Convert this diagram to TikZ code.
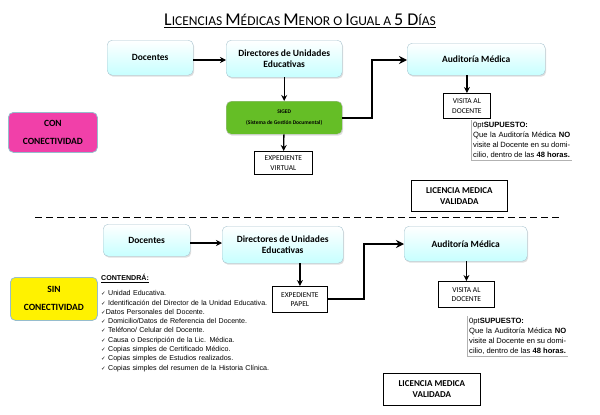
\documentclass[tikz,border=0pt]{standalone}
\usepackage{fontspec}
\setmainfont{Carlito}
\newfontfamily\listfont{Liberation Sans}
\newfontfamily\symfont{DejaVu Sans}
\usetikzlibrary{
  arrows.meta, % for the arrow tips
  shadows, % for the shadow behind the rounded boxes
}
\tikzset{
  stage/.style={ % style for the rounded blue boxes
    rectangle,rounded corners=5pt,draw=cyan!35!gray!60,
    top color=white,bottom color=cyan!22,
    drop shadow={opacity=0.25,shadow xshift=1pt,shadow yshift=-1.5pt},
    font=\bfseries\fontsize{9.5}{11}\selectfont,align=center,
    anchor=north west,inner sep=0pt,
  },
  doc/.style={ % style for the plain framed boxes
    rectangle,draw,thick,fill=white,font=\fontsize{7.5}{9.5}\selectfont,
    align=center,anchor=north west,inner sep=0pt,
  },
  tag/.style={ % style for the coloured side tags
    rectangle,rounded corners=5pt,draw=cyan!40!gray!70,thick,
    font=\bfseries\fontsize{9.5}{18}\selectfont,align=center,
    anchor=north west,inner sep=0pt,
  },
  note/.style={ % style for the SUPUESTO texts
    anchor=north west,inner sep=2pt,text width=97pt,align=justify,
    font=\listfont\fontsize{7.6}{10}\selectfont\hyphenpenalty=10000,
  },
  conn/.style={-{Stealth[length=6pt,width=6pt]},line width=1.3pt},
  bigconn/.style={-{Stealth[length=8pt,width=8pt]},line width=2pt},
}
\newcommand{\chk}{{\symfont\fontsize{5.5}{6}\selectfont ✓}}
\begin{document}
\begin{tikzpicture}[x=1pt,y=-1pt]
	\useasboundingbox (0,0) rectangle (600,415);
	
	% title
	\node (title) at (300,21) {\fontsize{18}{19}\selectfont\underline{L\fontsize{13.5}{14}\selectfont ICENCIAS
		\fontsize{18}{19}\selectfont M\fontsize{13.5}{14}\selectfont ÉDICAS
		\fontsize{18}{19}\selectfont M\fontsize{13.5}{14}\selectfont ENOR O
		\fontsize{18}{19}\selectfont I\fontsize{13.5}{14}\selectfont GUAL A
		\fontsize{18}{19}\selectfont 5 D\fontsize{13.5}{14}\selectfont ÍAS}};
	
	% con conectividad
	\node[tag,fill=magenta!75!white,minimum width=89pt,minimum height=40pt] (con) at (8,112) {CON\\CONECTIVIDAD};
	\node[stage,minimum width=86pt,minimum height=35pt] (doc1) at (107,40) {Docentes};
	\node[stage,minimum width=116pt,minimum height=37pt] (dir1) at (226,40) {Directores de Unidades\\Educativas};
	\node[stage,minimum width=138pt,minimum height=32pt] (aud1) at (407,43) {Auditoría Médica};
	\node[stage,top color=green!45!lime!70!black!85,bottom color=green!45!lime!70!black!85,draw=gray!50,minimum width=116pt,minimum height=33pt,
		font=\bfseries\fontsize{5.5}{11}\selectfont] (siged) at (226,101) {SIGED\\(Sistema de Gestión Documental)};
	\node[doc,minimum width=58pt,minimum height=23pt] (exv) at (254,151) {EXPEDIENTE\\VIRTUAL};
	\node[doc,minimum width=47pt,minimum height=25pt] (vis1) at (443,93) {VISITA AL\\DOCENTE};
	\node[note] (sup1) at (471,120) {\textbf{SUPUESTO:}\\ Que la Auditoría Médica \textbf{NO} visite al Docente en su domicilio, dentro de las \textbf{48 horas.}};
	\node[doc,font=\bfseries\fontsize{9}{11}\selectfont,minimum width=96pt,minimum height=31pt] (lic1) at (411,180) {LICENCIA MEDICA\\VALIDADA};
	
	\draw[gray!60,thick] (sup1.north west) -- (sup1.south west) -- (sup1.south east);
	\draw[conn] (doc1.east |- 0,60) -- (dir1.west |- 0,60);
	\draw[conn] (dir1) -- (siged);
	\draw[conn] (siged) -- (exv);
	\draw[bigconn] (siged.east) -| (372,60) -- (aud1.west |- 0,60);
	\draw[conn] (aud1.south -| vis1) -- (vis1);
	
	% separator
	\draw[thick,dash pattern=on 7pt off 4pt] (35,217) -- (560,217);
	
	% sin conectividad
	\node[tag,fill=yellow,minimum width=87pt,minimum height=43pt] (sin) at (10,277) {SIN\\CONECTIVIDAD};
	\node[stage,minimum width=87pt,minimum height=32pt] (doc2) at (103,224) {Docentes};
	\node[stage,minimum width=121pt,minimum height=37pt] (dir2) at (222,226) {Directores de Unidades\\Educativas};
	\node[stage,minimum width=123pt,minimum height=35pt] (aud2) at (404,226) {Auditoría Médica};
	\node[doc,minimum width=55pt,minimum height=26pt] (exp) at (272,286) {EXPEDIENTE\\PAPEL};
	\node[doc,minimum width=56pt,minimum height=26pt] (vis2) at (438,281) {VISITA AL\\DOCENTE};
	\node[note] (sup2) at (467,316) {\textbf{SUPUESTO:}\\ Que la Auditoría Médica \textbf{NO} visite al Docente en su domicilio, dentro de las \textbf{48 horas.}};
	\node[doc,font=\bfseries\fontsize{9}{11}\selectfont,minimum width=97pt,minimum height=32pt] (lic2) at (383,373) {LICENCIA MEDICA\\VALIDADA};
	\node[anchor=north west,inner sep=0pt,text width=175pt,font=\listfont\fontsize{7.1}{9.3}\selectfont] (list) at (101,274)
		{\textbf{\underline{CONTENDRÁ:}}\\[6pt]
		\chk\ Unidad Educativa.\\
		\chk\ Identificación del Director de la Unidad Educativa.\\
		\chk Datos Personales del Docente.\\
		\chk\ Domicilio/Datos de Referencia del Docente.\\
		\chk\ Teléfono/ Celular del Docente.\\
		\chk\ Causa o Descripción de la Lic. Médica.\\
		\chk\ Copias simples de Certificado Médico.\\
		\chk\ Copias simples de Estudios realizados.\\
		\chk\ Copias simples del resumen de la Historia Clínica.};
	
	\draw[gray!60,thick] (sup2.north west) -- (sup2.south west) -- (sup2.south east);
	\draw[conn] (doc2.east |- 0,243) -- (dir2.west |- 0,243);
	\draw[conn] (dir2.south -| exp) -- (exp);
	\draw[bigconn] (exp.east) -| (364,244) -- (aud2.west |- 0,244);
	\draw[conn] (aud2.south -| vis2) -- (vis2);
\end{tikzpicture}
\end{document}
